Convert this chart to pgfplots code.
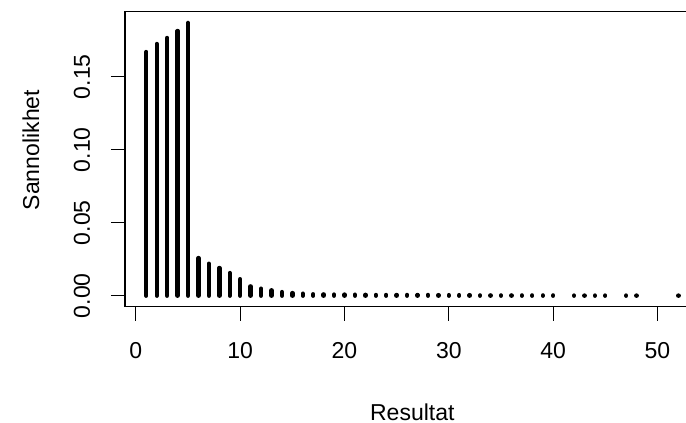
\documentclass[border=0pt]{standalone}
\usepackage{fontspec}
\setmainfont{Liberation Sans}
\usepackage{pgfplots}
\pgfplotsset{compat=1.18}

\begin{document}
\begin{tikzpicture}
  % page = cropped R device area (1 px = 0.5 pt)
  \useasboundingbox (-62.5pt,-58.15pt) rectangle (280.5pt,153.35pt);
  \clip (-62.5pt,-58.15pt) rectangle (280.5pt,153.35pt);
  \begin{axis}[
      scale only axis,
      width=287.3pt,
      height=147.5pt,
      xmin=-1.04, xmax=54.04,
      ymin=-0.00753, ymax=0.1945,
      font=\fontsize{11.5}{13}\selectfont,
      axis line style={line width=0.6pt},
      tick style={black, line width=0.5pt},
      tick align=outside,
      major tick length=7pt,
      xtick pos=bottom, ytick pos=left,
      xtick={0,10,20,30,40,50},
      xticklabels={0,10,20,30,40,50},
      ytick={0,0.05,0.1,0.15},
      yticklabels={0.00,0.05,0.10,0.15},
      xticklabel style={anchor=center, yshift=-15pt},
      yticklabel style={anchor=center, xshift=-14.5pt, rotate=90},
      xlabel={Resultat},
      ylabel={Sannolikhet},
      xlabel style={at={(axis description cs:0.5,0)}, anchor=center, yshift=-52.65pt},
      ylabel style={at={(axis description cs:0,0.531)}, anchor=center, yshift=47pt},
    ]
    \addplot[ycomb, black, line width=2.2pt, line cap=round, mark=none] coordinates {
      (1,0.1669) (2,0.1724) (3,0.1765) (4,0.1813) (5,0.1868)
      (6,0.0258) (7,0.0219) (8,0.0190) (9,0.0155) (10,0.0113)
      (11,0.0064) (12,0.0048) (13,0.0037) (14,0.0025) (15,0.0018)
      (16,0.0014) (17,0.0010) (18,0.0009) (19,0.0008) (20,0.0008)
      (21,0.0007) (22,0.0006) (23,0.0005) (24,0.0005) (25,0.0005)
      (26,0.0005) (27,0.0005) (28,0.0005) (29,0.0004) (30,0.0004)
      (31,0.0004) (32,0.0004) (33,0.0002) (34,0.0002) (35,0.0002)
      (36,0.0002) (37,0.0002) (38,0.0002) (39,0.0002) (40,0.0002)
      (42,0.0001) (43,0.0001) (44,0.0001) (45,0.0001)
      (47,0.0001) (48,0.0001) (52,0.0001)
    };
  \end{axis}
\end{tikzpicture}
\end{document}
